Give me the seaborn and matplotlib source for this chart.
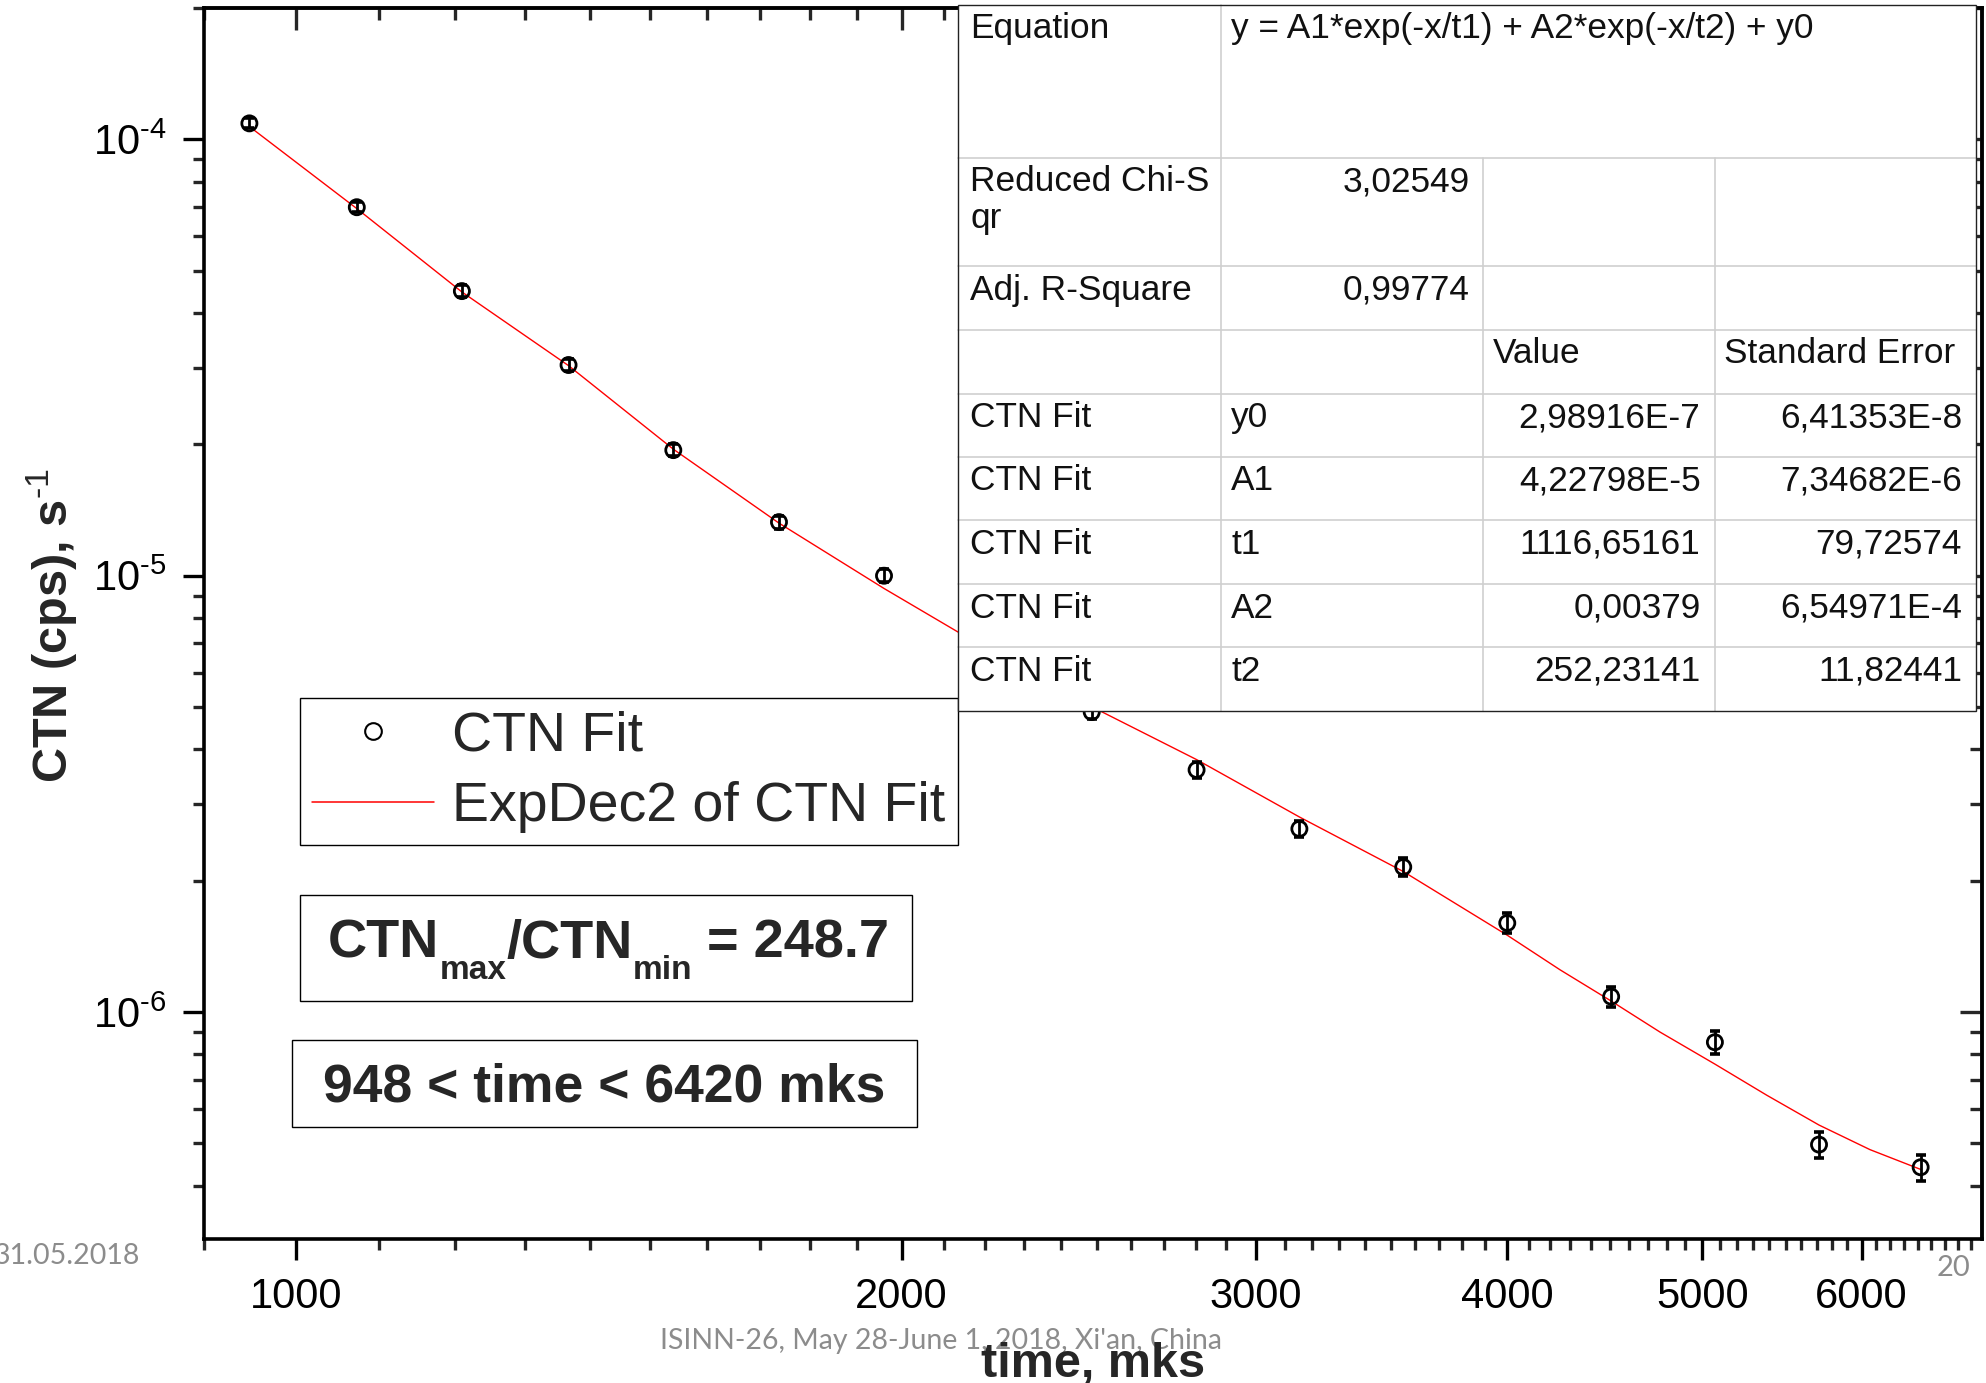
import numpy as np
import pandas as pd
import matplotlib
matplotlib.use("Agg")
import matplotlib.pyplot as plt
import seaborn as sns
from matplotlib.ticker import (FixedLocator, LogLocator, NullFormatter, FuncFormatter,
                               MultipleLocator)
from matplotlib.lines import Line2D
from matplotlib.patches import Rectangle

# ---------------- data ----------------
time_mks = [948, 1072, 1209, 1366, 1540, 1738, 1960, 2210, 2486, 2803, 3153,
            3551, 4000, 4505, 5073, 5715, 6420]
ctn = [1.088e-4, 6.99e-5, 4.49e-5, 3.04e-5, 1.94e-5, 1.327e-5, 1.0e-5, 7.0e-6,
       4.87e-6, 3.59e-6, 2.63e-6, 2.15e-6, 1.60e-6, 1.085e-6, 8.53e-7, 4.97e-7, 4.41e-7]
ctn_err = [2.9e-6, 1.9e-6, 1.35e-6, 9.7e-7, 6.2e-7, 4.6e-7, 3.5e-7, 2.6e-7,
           1.85e-7, 1.43e-7, 1.13e-7, 9.9e-8, 8.3e-8, 5.7e-8, 5.2e-8, 3.4e-8, 3.0e-8]

fit_time = [948, 1072, 1209, 1366, 1540, 1738, 1960, 2210, 2486, 2803, 3153,
            3551, 4000, 4249, 4505, 4764, 5073, 5383, 5715, 6058, 6420]
fit_ctn = [1.07e-4, 6.94e-5, 4.47e-5, 3.03e-5, 1.95e-5, 1.32e-5, 9.35e-6, 6.75e-6,
           5.01e-6, 3.79e-6, 2.80e-6, 2.10e-6, 1.50e-6, 1.25e-6, 1.06e-6, 9.0e-7,
           7.6e-7, 6.45e-7, 5.51e-7, 4.84e-7, 4.36e-7]

x_major_ticks = [1000, 2000, 3000, 4000, 5000, 6000]

eq_label = "Equation"
eq_text = "y = A1*exp(-x/t1) + A2*exp(-x/t2) + y0"
stat_labels = ["Reduced Chi-S", "Adj. R-Square"]
stat_values = ["3,02549", "0,99774"]
col_headers = ["Value", "Standard Error"]
param_names = ["y0", "A1", "t1", "A2", "t2"]
param_values = ["2,98916E-7", "4,22798E-5", "1116,65161", "0,00379", "252,23141"]
param_errors = ["6,41353E-8", "7,34682E-6", "79,72574", "6,54971E-4", "11,82441"]
series_name = "CTN Fit"
fit_name = "ExpDec2 of CTN Fit"

HY = "\u2010"  # short hyphen used in the exponents

# ---------------- style ----------------
sns.set_theme(style="ticks")
plt.rcParams["font.family"] = ["Liberation Sans", "DejaVu Sans"]
plt.rcParams["mathtext.fontset"] = "custom"
plt.rcParams["mathtext.rm"] = "Liberation Sans"
plt.rcParams["mathtext.bf"] = "Liberation Sans:bold"
plt.rcParams["mathtext.it"] = "Liberation Sans:italic"
plt.rcParams["axes.unicode_minus"] = False

W, H = 1986, 1383
fig = plt.figure(figsize=(W / 100, H / 100), dpi=100)
fig.patch.set_facecolor("white")

L, R, T, B = 204, 1982, 8, 1239
ax = fig.add_axes([L / W, 1 - B / H, (R - L) / W, (B - T) / H])
ax.set_facecolor("white")
ax.set_xscale("log")
ax.set_yscale("log")

df_pts = pd.DataFrame({"time": time_mks, "ctn": ctn, "err": ctn_err})
df_fit = pd.DataFrame({"time": fit_time, "ctn": fit_ctn})

sns.lineplot(data=df_fit, x="time", y="ctn", color="red", lw=1.0, ax=ax,
             estimator=None, sort=False, zorder=2)
ax.errorbar(df_pts["time"], df_pts["ctn"], yerr=df_pts["err"], fmt="none",
            ecolor="black", elinewidth=2.0, capsize=3.3, capthick=2.6, zorder=3)
sns.scatterplot(data=df_pts, x="time", y="ctn", marker="o", s=118,
                facecolors="none", edgecolor="black", linewidth=2.0,
                ax=ax, zorder=4, legend=False)

ax.set_xlim(900, 6887)
ax.set_ylim(3.02e-7, 2.0e-4)


def sci_fmt(v, pos):
    e = int(round(np.log10(v)))
    sign = HY if e < 0 else ""
    return f"$\\mathdefault{{10^{{{sign}{abs(e)}}}}}$"


# ticks
ax.xaxis.set_major_locator(FixedLocator(x_major_ticks))
ax.xaxis.set_minor_locator(MultipleLocator(100))
ax.xaxis.set_major_formatter(FuncFormatter(lambda v, p: f"{int(round(v))}"))
ax.xaxis.set_minor_formatter(NullFormatter())
ax.yaxis.set_major_locator(LogLocator(base=10, numticks=10))
ax.yaxis.set_minor_locator(LogLocator(base=10, subs=np.arange(2, 10), numticks=30))
ax.yaxis.set_major_formatter(FuncFormatter(sci_fmt))
ax.yaxis.set_minor_formatter(NullFormatter())

ax.tick_params(which="major", direction="out", length=15, width=2.4,
               labelsize=30, pad=12, colors="black", top=False, right=False)
ax.tick_params(which="minor", direction="out", length=8, width=2.4,
               top=False, right=False)
for s in ax.spines.values():
    s.set_linewidth(2.6)
    s.set_color("black")
    s.set_visible(True)

secx = ax.secondary_xaxis("top")
secx.xaxis.set_major_locator(FixedLocator(x_major_ticks))
secx.xaxis.set_minor_locator(MultipleLocator(100))
secx.xaxis.set_major_formatter(NullFormatter())
secx.xaxis.set_minor_formatter(NullFormatter())
secx.tick_params(which="major", direction="in", length=16, width=2.4)
secx.tick_params(which="minor", direction="in", length=8.5, width=2.4)
secx.spines["top"].set_linewidth(2.6)

secy = ax.secondary_yaxis("right")
secy.yaxis.set_major_locator(LogLocator(base=10, numticks=10))
secy.yaxis.set_minor_locator(LogLocator(base=10, subs=np.arange(2, 10), numticks=30))
secy.yaxis.set_major_formatter(NullFormatter())
secy.yaxis.set_minor_formatter(NullFormatter())
secy.tick_params(which="major", direction="in", length=16, width=2.4)
secy.tick_params(which="minor", direction="in", length=8.5, width=2.4)
secy.spines["right"].set_linewidth(2.6)

ax.set_xlabel("time, mks", fontsize=35, fontweight="bold")
ax.xaxis.set_label_coords(0.5, -(1342 - B) / (B - T))
ax.set_ylabel(f"CTN (cps), s$^{{{HY}1}}$", fontsize=35, fontweight="bold")
ax.yaxis.set_label_coords((80 - L) / (R - L), (B - 626) / (B - T))

# legend
handles = [Line2D([], [], marker="o", ls="none", mfc="none", mec="black", ms=12, mew=1.5),
           Line2D([], [], color="red", lw=1.1)]
leg = ax.legend(handles, [series_name, fit_name], loc="upper left",
                bbox_to_anchor=((300 - L) / (R - L), 1 - (698 - T) / (B - T)),
                borderaxespad=0, fontsize=40, frameon=True, fancybox=False,
                framealpha=1, edgecolor="black", handlelength=2.2,
                handletextpad=0.32, borderpad=0.22, labelspacing=0.34)
leg.get_frame().set_linewidth(1.0)

# ---------------- overlay (pixel coordinates) ----------------
ov = fig.add_axes([0, 0, 1, 1])
ov.set_xlim(0, W)
ov.set_ylim(H, 0)
ov.axis("off")

fig.canvas.draw()
rend = fig.canvas.get_renderer()

# annotation boxes
ov.add_patch(Rectangle((300, 895), 612, 106, fill=False, ec="black", lw=1.0))
pieces = [("CTN", 39, 958), ("max", 24, 979), ("/CTN", 39, 958),
          ("min", 24, 979), (" = 248.7", 39, 958)]
xc = 328
for txt, size, yb in pieces:
    t = ov.text(xc, yb, txt, fontsize=size, fontweight="bold", ha="left", va="baseline")
    xc += t.get_window_extent(renderer=rend).width

ov.add_patch(Rectangle((292, 1040), 624.5, 87, fill=False, ec="black", lw=1.0))
ov.text(604, 1102, "948 < time < 6420 mks", fontsize=38.5, fontweight="bold",
        ha="center", va="baseline")

# fit table
tx0, tx1, ty0, ty1 = 958, 1976, 4.6, 710.8
cols = [958, 1221, 1483, 1714.5, 1976]
rows = [4.6, 157.5, 266.3, 329.7, 393.5, 456.8, 520.2, 584, 647.4, 710.8]
grid = "#cfcfcf"
ov.add_patch(Rectangle((tx0, ty0), tx1 - tx0, ty1 - ty0, fc="white", ec="none", zorder=1))
for yv in rows[1:-1]:
    ov.plot([tx0, tx1], [yv, yv], color=grid, lw=1.2, zorder=2)
ov.plot([cols[1], cols[1]], [ty0, ty1], color=grid, lw=1.2, zorder=2)
for xv in cols[2:4]:
    ov.plot([xv, xv], [rows[1], ty1], color=grid, lw=1.2, zorder=2)
ov.add_patch(Rectangle((tx0, ty0), tx1 - tx0, ty1 - ty0, fill=False, ec="#222222", lw=1.0, zorder=3))

fs = 25.4
pad_t = 7.5
tk = dict(fontsize=fs, va="top", zorder=4, color="#111111")
ov.text(cols[0] + 12, rows[0] + pad_t, eq_label, ha="left", **tk)
ov.text(cols[1] + 10, rows[0] + pad_t, eq_text, ha="left", **tk)
for i, (lab, val) in enumerate(zip(stat_labels, stat_values)):
    top = rows[1 + i]
    ov.text(cols[0] + 12, top + pad_t, lab, ha="left", **tk)
    ov.text(cols[2] - 13, top + pad_t, val, ha="right", **tk)
ov.text(cols[0] + 12, 228, "qr", ha="left", va="baseline", fontsize=fs, zorder=4, color="#111111")
ov.text(cols[2] + 10, rows[3] + pad_t, col_headers[0], ha="left", **tk)
ov.text(cols[3] + 10, rows[3] + pad_t, col_headers[1], ha="left", **tk)
for i, (nm, v, e) in enumerate(zip(param_names, param_values, param_errors)):
    top = rows[4 + i]
    ov.text(cols[0] + 12, top + pad_t, series_name, ha="left", **tk)
    ov.text(cols[1] + 10, top + pad_t, nm, ha="left", **tk)
    ov.text(cols[3] - 14, top + pad_t, v, ha="right", **tk)
    ov.text(cols[4] - 14, top + pad_t, e, ha="right", **tk)

# slide footer texts (behind the axes label)
foot = dict(color="#8c8c8c", family=["Lato", "DejaVu Sans"], zorder=-1)
fig.text(140 / W, 1 - 1264 / H, "31.05.2018", ha="right", va="baseline", fontsize=20.5, **foot)
fig.text(941 / W, 1 - 1349 / H, "ISINN-26, May 28-June 1, 2018, Xi'an, China",
         ha="center", va="baseline", fontsize=20.5, **foot)
fig.text(1953 / W, 1 - 1276 / H, "20", ha="center", va="baseline", fontsize=21, **foot)

fig.savefig("out.png", dpi=100, facecolor="white")
